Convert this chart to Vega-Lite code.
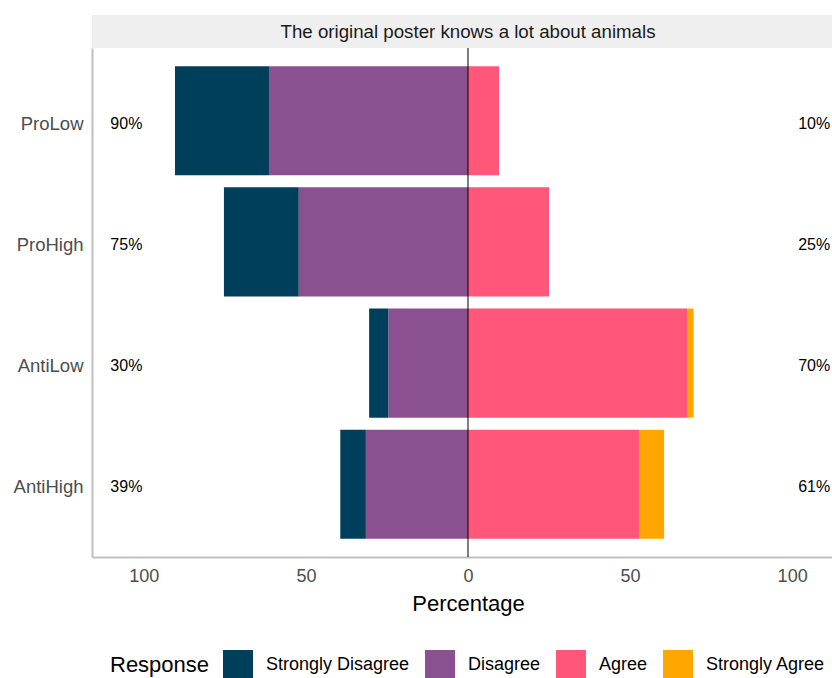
{
  "$schema": "https://vega.github.io/schema/vega-lite/v6.json",
  "background": "white",
  "padding": {"left": 13, "top": 15, "right": 0, "bottom": 0},
  "config": {
    "font": "Liberation Sans",
    "view": {"stroke": null},
    "axis": {"grid": false}
  },
  "spacing": 0,
  "bounds": "flush",
  "datasets": {
    "responses": [
      {"group": "ProLow", "Response": "Strongly Disagree", "pct": -29.0},
      {"group": "ProLow", "Response": "Disagree", "pct": -61.4},
      {"group": "ProLow", "Response": "Agree", "pct": 9.6},
      {"group": "ProHigh", "Response": "Strongly Disagree", "pct": -23.1},
      {"group": "ProHigh", "Response": "Disagree", "pct": -52.2},
      {"group": "ProHigh", "Response": "Agree", "pct": 25.0},
      {"group": "AntiLow", "Response": "Strongly Disagree", "pct": -6.0},
      {"group": "AntiLow", "Response": "Disagree", "pct": -24.5},
      {"group": "AntiLow", "Response": "Agree", "pct": 67.6},
      {"group": "AntiLow", "Response": "Strongly Agree", "pct": 2.0},
      {"group": "AntiHigh", "Response": "Strongly Disagree", "pct": -7.9},
      {"group": "AntiHigh", "Response": "Disagree", "pct": -31.5},
      {"group": "AntiHigh", "Response": "Agree", "pct": 52.8},
      {"group": "AntiHigh", "Response": "Strongly Agree", "pct": 7.7}
    ],
    "totals": [
      {"group": "ProLow", "neg": "90%", "pos": "10%"},
      {"group": "ProHigh", "neg": "75%", "pos": "25%"},
      {"group": "AntiLow", "neg": "30%", "pos": "70%"},
      {"group": "AntiHigh", "neg": "39%", "pos": "61%"}
    ]
  },
  "vconcat": [
    {
      "width": 740,
      "height": 33,
      "view": {"fill": "#efefef", "stroke": null},
      "data": {"values": [{"strip": "The original poster knows a lot about animals"}]},
      "mark": {"type": "text", "fontSize": 18.7, "color": "#1a1a1a", "baseline": "middle", "dx": 6},
      "encoding": {"text": {"field": "strip"}}
    },
    {
      "width": 740,
      "height": 509,
      "layer": [
        {
          "data": {"name": "responses"},
          "mark": {"type": "bar"},
          "encoding": {
            "y": {
              "field": "group",
              "type": "nominal",
              "sort": ["ProLow", "ProHigh", "AntiLow", "AntiHigh"],
              "scale": {"paddingInner": 0.1, "paddingOuter": 0.15},
              "axis": {
                "title": null,
                "ticks": false,
                "labelFontSize": 18.5,
                "labelColor": "#4d4d4d",
                "labelPadding": 9,
                "labelOffset": 3,
                "domainColor": "#bfbfbf",
                "domainWidth": 2
              }
            },
            "x": {
              "field": "pct",
              "type": "quantitative",
              "stack": "zero",
              "scale": {"domain": [-116, 112.3], "nice": false, "zero": false},
              "axis": {
                "title": "Percentage",
                "titleFontSize": 22,
                "titleFontWeight": "normal",
                "titleColor": "black",
                "titlePadding": 8,
                "titleX": 376,
                "values": [-100, -75, -50, -25, 0, 25, 50, 75, 100],
                "labelExpr": "datum.value % 50 === 0 ? abs(datum.value) : ''",
                "labelFontSize": 18,
                "labelColor": "#4d4d4d",
                "labelPadding": 10,
                "ticks": false,
                "domainColor": "#bfbfbf",
                "domainWidth": 2
              }
            },
            "color": {
              "field": "Response",
              "type": "nominal",
              "scale": {
                "domain": ["Strongly Disagree", "Disagree", "Agree", "Strongly Agree"],
                "range": ["#003f5c", "#8a508f", "#ff5679", "#ffa600"]
              },
              "legend": {
                "orient": "none",
                "legendX": 18,
                "legendY": 635,
                "direction": "horizontal",
                "titleOrient": "left",
                "titleFontSize": 22,
                "titleFontWeight": "normal",
                "titleColor": "black",
                "titlePadding": 13,
                "labelFontSize": 18,
                "labelColor": "black",
                "labelOffset": 13,
                "columnPadding": 15,
                "symbolType": "square",
                "symbolSize": 900,
                "symbolStrokeWidth": 0,
                "symbolOpacity": 1
              }
            },
            "order": {"field": "Response", "sort": "ascending"}
          }
        },
        {
          "data": {"values": [{}]},
          "mark": {"type": "rule", "color": "black", "strokeWidth": 1},
          "encoding": {"x": {"datum": 0}}
        },
        {
          "data": {"name": "totals"},
          "mark": {"type": "text", "fontSize": 16, "color": "black", "align": "center", "dy": 3},
          "encoding": {
            "y": {"field": "group", "type": "nominal", "sort": ["ProLow", "ProHigh", "AntiLow", "AntiHigh"]},
            "x": {"datum": -105.4},
            "text": {"field": "neg"}
          }
        },
        {
          "data": {"name": "totals"},
          "mark": {"type": "text", "fontSize": 16, "color": "black", "align": "center", "dy": 3},
          "encoding": {
            "y": {"field": "group", "type": "nominal", "sort": ["ProLow", "ProHigh", "AntiLow", "AntiHigh"]},
            "x": {"datum": 106.8},
            "text": {"field": "pos"}
          }
        }
      ]
    }
  ]
}
